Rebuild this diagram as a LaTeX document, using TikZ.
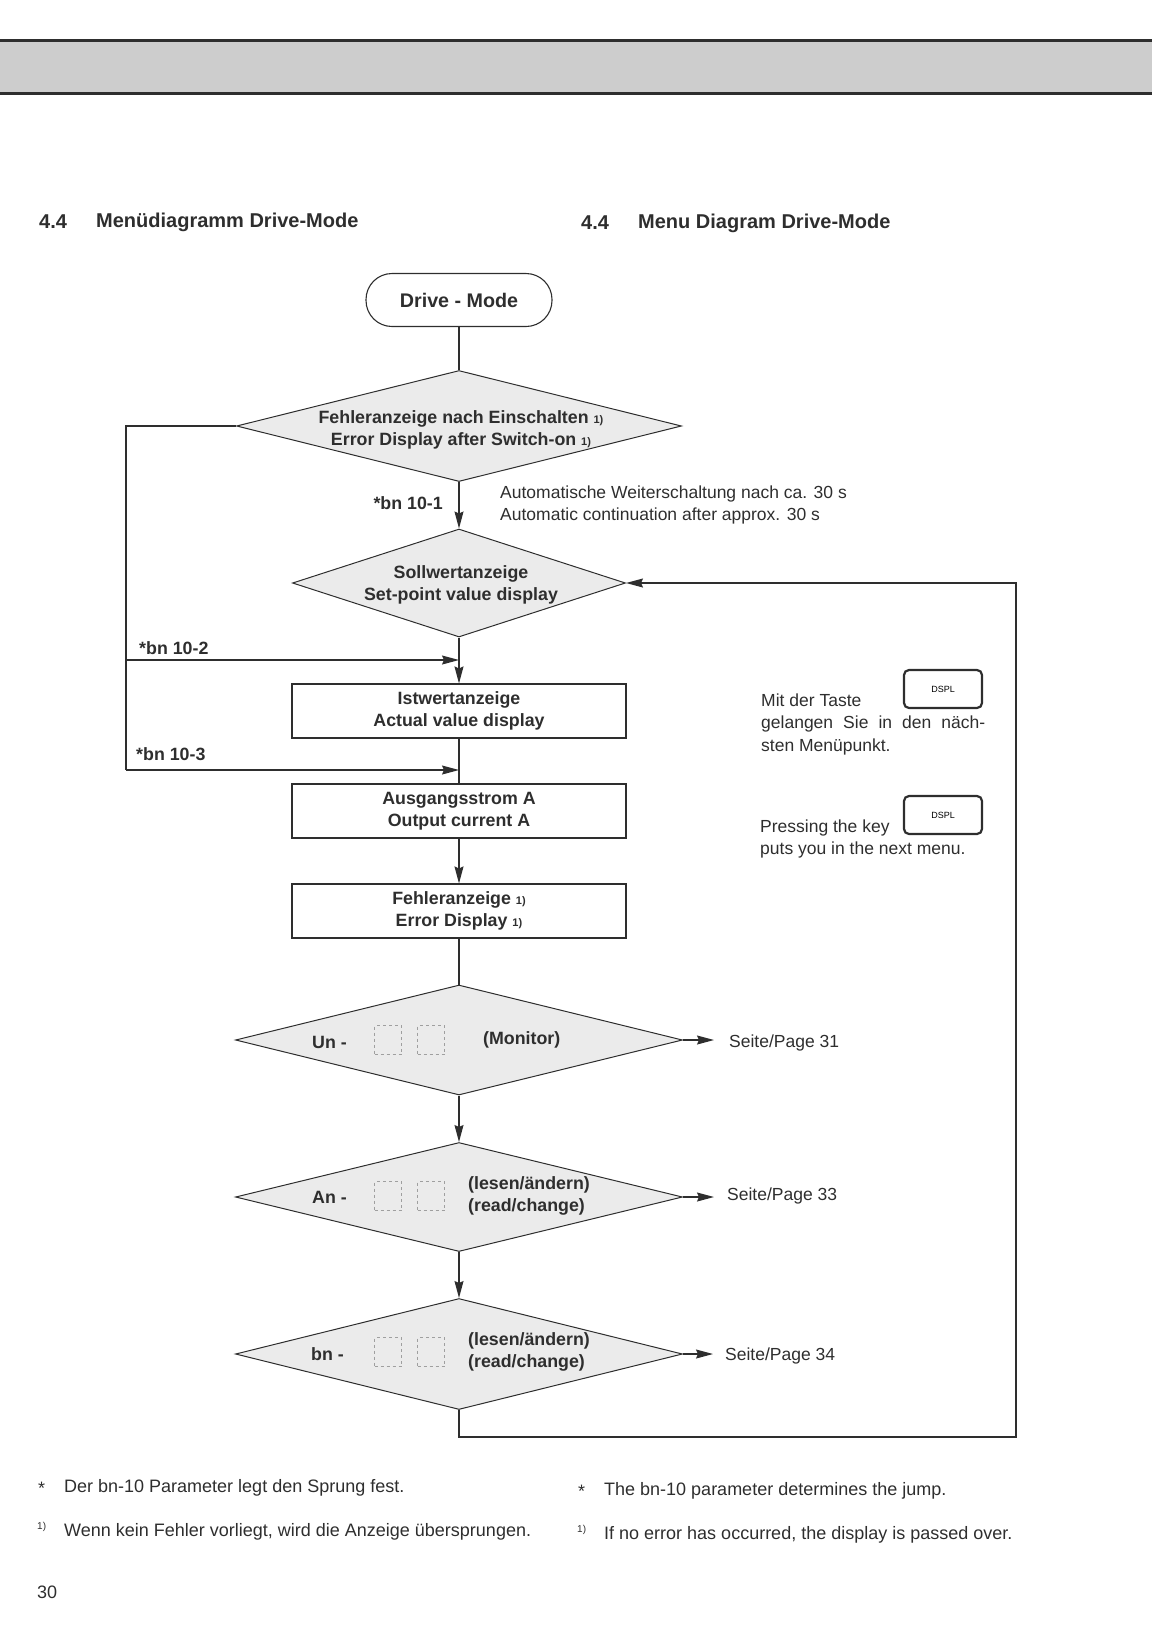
\documentclass[tikz,border=0pt]{standalone}
\usepackage{fontspec}
\setmainfont{Liberation Sans}
\usetikzlibrary{shapes.geometric,arrows.meta}
\definecolor{ink}{HTML}{2E2E2E}
\definecolor{dfill}{HTML}{EBEBEB}
\definecolor{band}{HTML}{CDCDCD}
\newcommand{\sone}{\ {\fontsize{11}{11}\selectfont 1)}}
\tikzset{
  ln/.style={draw=ink, line width=1.2pt},
  arr/.style={ln, -{Stealth[length=17pt,width=9pt,inset=2pt]}},
  dia/.style={diamond, draw=ink, line width=1pt, fill=dfill, inner sep=0pt, minimum width=447pt},
  box/.style={rectangle, draw=ink, line width=1.1pt, minimum width=334pt, minimum height=54pt, inner sep=0pt, align=center, font=\fontsize{17.8}{22}\selectfont\bfseries, text=ink},
  bt/.style={font=\fontsize{17.8}{22}\selectfont\bfseries, align=center, inner sep=0pt, text=ink},
  nt/.style={font=\fontsize{17.5}{22.5}\selectfont, inner sep=0pt, text=ink, align=left},
  ft/.style={font=\fontsize{18}{22}\selectfont, inner sep=0pt, text=ink, anchor=west},
  tt/.style={font=\fontsize{20}{22}\selectfont\bfseries, inner sep=0pt, text=ink, anchor=west},
  dbox/.style={draw=gray!75, dashed, line width=0.8pt, minimum width=27pt, minimum height=29pt, inner sep=0pt},
  keybox/.style={draw=ink, line width=2.2pt, rounded corners=5pt, minimum width=78pt, minimum height=38pt, inner sep=0pt, font=\fontsize{9}{9}\selectfont},
  drivebox/.style={rectangle, rounded corners=26pt, draw=ink, line width=1.1pt, minimum width=186pt, minimum height=53pt, inner sep=0pt, font=\fontsize{19.7}{21}\selectfont\bfseries, text=ink}
}
\begin{document}
\begin{tikzpicture}[x=1pt,y=-1pt]
\useasboundingbox (0,0) rectangle (1152,1647);
% header band
\fill[band] (0,39) rectangle (1152,94);
\draw[ink, line width=3pt] (0,40) -- (1152,40);
\draw[ink, line width=3pt] (0,93) -- (1152,93);
% titles
\node[tt] (t1a) at (39,222) {4.4};
\node[tt] (t1b) at (96,222) {Menüdiagramm Drive-Mode};
\node[tt] (t2a) at (581,223) {4.4};
\node[tt] (t2b) at (638,223) {Menu Diagram Drive-Mode};
% flow nodes
\node[drivebox] (drive) at (459,300) {Drive - Mode};
\node[dia, minimum width=445pt, minimum height=111pt] (d1) at (459,426) {};
\node[bt] (d1t) at (461,430) {Fehleranzeige nach Einschalten\sone\\Error Display after Switch-on\sone};
\node[bt, anchor=east] (l1) at (443,503) {*bn 10-1};
\node[nt, anchor=west] (auto) at (500,505) {Automatische Weiterschaltung nach ca. 30 s\\Automatic continuation after approx. 30 s};
\node[dia, minimum width=333pt, minimum height=108pt] (d2) at (459,583) {};
\node[bt] (d2t) at (461,585) {Sollwertanzeige\\Set-point value display};
\node[bt, anchor=west] (l2) at (139,648) {*bn 10-2};
\node[box] (ist) at (459,711) {Istwertanzeige\\Actual value display};
\node[bt, anchor=west] (l3) at (136,754) {*bn 10-3};
\node[box] (aus) at (459,811) {Ausgangsstrom A\\Output current A};
\node[box] (err) at (459,911) {Fehleranzeige\sone\\Error Display\sone};
% menu diamonds
\node[dia, minimum height=110pt] (un) at (459,1040) {};
\node[bt, anchor=west] (unl) at (312,1042) {Un -};
\node[dbox] (unb1) at (388,1040) {};
\node[dbox] (unb2) at (431,1040) {};
\node[bt, anchor=west] (unt) at (483,1040) {(Monitor)};
\node[dia, minimum height=109pt] (an) at (459,1197) {};
\node[bt, anchor=west] (anl) at (312,1197) {An -};
\node[dbox] (anb1) at (388,1196) {};
\node[dbox] (anb2) at (431,1196) {};
\node[bt, anchor=west, align=left] (ant) at (468,1196) {(lesen/ändern)\\(read/change)};
\node[dia, minimum height=111pt] (bn) at (459,1354) {};
\node[bt, anchor=west] (bnl) at (311,1354) {bn -};
\node[dbox] (bnb1) at (388,1352) {};
\node[dbox] (bnb2) at (431,1352) {};
\node[bt, anchor=west, align=left] (bnt) at (468,1352) {(lesen/ändern)\\(read/change)};
% page references
\node[nt, anchor=west] (s31) at (729,1043) {Seite/Page 31};
\node[nt, anchor=west] (s33) at (727,1196) {Seite/Page 33};
\node[nt, anchor=west] (s34) at (725,1356) {Seite/Page 34};
\coordinate (p1) at (714,1040);
\coordinate (p2) at (714,1197);
\coordinate (p3) at (713,1354);
% helper coordinates
\coordinate (la) at (126,426);
\coordinate (lb) at (126,660);
\coordinate (lc) at (126,770);
\coordinate (j2) at (459,660);
\coordinate (j3) at (459,770);
\coordinate (br) at (459,1437);
\coordinate (rr) at (1016,1437);
\coordinate (rt) at (1016,583);
% connectors
\draw[ln] (drive.south) -- (d1.north);
\draw[arr] (d1.south) -- (d2.north);
\draw[arr] (d2.south) -- (ist.north);
\draw[ln] (ist.south) -- (aus.north);
\draw[arr] (aus.south) -- (err.north);
\draw[ln] (err.south) -- (un.north);
\draw[arr] (un.south) -- (an.north);
\draw[arr] (an.south) -- (bn.north);
\draw[ln] (d1.west) -- (la) -- (lc);
\draw[arr] (lb) -- (j2);
\draw[arr] (lc) -- (j3);
\draw[arr] (bn.south) -- (br) -- (rr) -- (rt) -- (d2.east);
\draw[arr] (un.east) -- (p1);
\draw[arr] (an.east) -- (p2);
\draw[arr] (bn.east) -- (p3);
% side notes
\node[keybox] (k1) at (943,689) {DSPL};
\node[nt, anchor=west] (mit) at (761,724) {Mit der Taste\\\makebox[224pt][s]{gelangen Sie in den näch-}\\sten Menüpunkt.};
\node[keybox] (k2) at (943,815) {DSPL};
\node[nt, anchor=west] (press) at (760,839) {Pressing the key\\puts you in the next menu.};
% footnotes
\node[ft] (fa1) at (38,1488) {*};
\node[ft] (fa2) at (64,1488) {Der bn-10 Parameter legt den Sprung fest.};
\node[inner sep=0pt, anchor=west, font=\fontsize{10}{10}\selectfont, text=ink] (fb1) at (37,1527) {1)};
\node[ft] (fb2) at (64,1532) {Wenn kein Fehler vorliegt, wird die Anzeige übersprungen.};
\node[ft] (fc1) at (578,1491) {*};
\node[ft] (fc2) at (604,1491) {The bn-10 parameter determines the jump.};
\node[inner sep=0pt, anchor=west, font=\fontsize{10}{10}\selectfont, text=ink] (fd1) at (577,1530) {1)};
\node[ft] (fd2) at (604,1535) {If no error has occurred, the display is passed over.};
\node[ft] (pg) at (37,1592) {30};
\end{tikzpicture}
\end{document}
